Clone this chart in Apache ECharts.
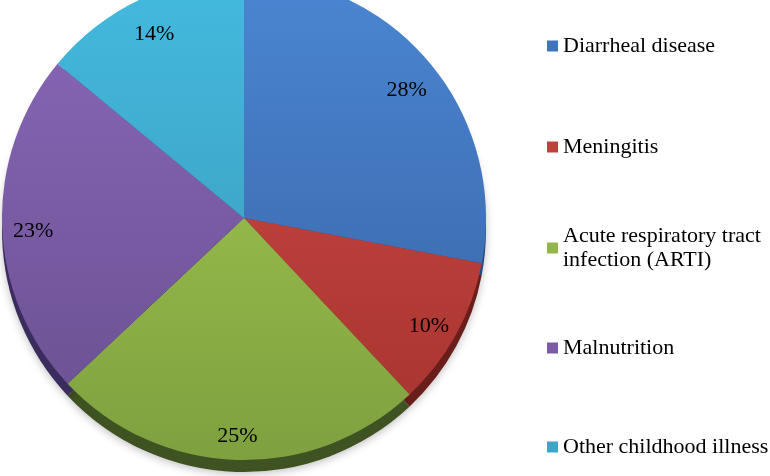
<!DOCTYPE html>
<html>
<head>
<meta charset="utf-8">
<script src="https://cdn.jsdelivr.net/npm/echarts@6/dist/echarts.min.js"></script>
<style>html,body{margin:0;padding:0;background:#fff}#c{width:770px;height:476px}</style>
</head>
<body>
<div id="c"></div>
<script>
const categories = ['Diarrheal disease', 'Meningitis', 'Acute respiratory tract infection (ARTI)', 'Malnutrition', 'Other childhood illness'];
const legendText = ['Diarrheal disease', 'Meningitis', 'Acute respiratory tract\ninfection (ARTI)', 'Malnutrition', 'Other childhood illness'];
const values = [28, 10, 25, 23, 14];

const topColors = ['#4A84D0', '#D04A44', '#A6CC52', '#8867B7', '#43B8DD'];
const bottomColors = ['#3560A0', '#A3322E', '#7E9F3F', '#684E8E', '#3895B3'];
const sideColors = ['#2B4D7E', '#6A1E1B', '#3F5222', '#3A2C5C', '#2A6A80'];
const legendColors = ['#3F74BF', '#C0403C', '#92B64C', '#7A5BA4', '#3BA6C8'];

const font = 'Liberation Serif';
const cx = 244, cy = 218, R = 242;

function grad(i) {
  return new echarts.graphic.LinearGradient(0, 0, 0, 470, [
    { offset: 0, color: topColors[i] },
    { offset: 1, color: bottomColors[i] }
  ], true);
}

const mainData = categories.map((n, i) => ({ name: n, value: values[i], itemStyle: { color: grad(i) } }));
const sideData = categories.map((n, i) => ({ name: n, value: values[i], itemStyle: { color: sideColors[i] } }));
const labelData = categories.map((n, i) => ({ name: n, value: values[i] }));

const legendCenters = [41, 142, 243, 343, 442];
const legends = categories.map((n, i) => {
  const twoLine = legendText[i].indexOf('\n') >= 0;
  return {
    orient: 'vertical',
    left: 542,
    top: twoLine ? legendCenters[i] - 36 : legendCenters[i] - 12,
    itemWidth: 11,
    itemHeight: 11,
    icon: 'rect',
    selectedMode: false,
    formatter: () => legendText[i],
    textStyle: {
      fontFamily: font, fontSize: 22, color: '#000', lineHeight: 24,
      padding: twoLine ? [24, 0, 0, 0] : 0
    },
    data: [{ name: n, itemStyle: { color: legendColors[i] } }]
  };
});

const chart = echarts.init(document.getElementById('c'), null, { renderer: 'canvas' });
chart.setOption({
  animation: false,
  textStyle: { fontFamily: font },
  legend: legends,
  series: [
    {
      type: 'pie', z: 1, center: [cx, cy + 12], radius: R, startAngle: 90, clockwise: true,
      silent: true, label: { show: false }, labelLine: { show: false },
      itemStyle: { shadowBlur: 8, shadowColor: 'rgba(0,0,0,0.25)', shadowOffsetY: 2 },
      data: sideData
    },
    {
      type: 'pie', z: 2, center: [cx, cy], radius: R, startAngle: 90, clockwise: true,
      label: { show: false }, labelLine: { show: false },
      emphasis: { disabled: true },
      data: mainData
    },
    {
      type: 'pie', z: 3, center: [cx, cy + 7], radius: [176, 240], startAngle: 90, clockwise: true,
      silent: true,
      itemStyle: { color: 'rgba(0,0,0,0)' },
      label: {
        show: true, position: 'inside',
        formatter: p => Math.round(p.percent) + '%',
        fontFamily: font, fontSize: 22, color: '#000'
      },
      labelLine: { show: false },
      data: labelData
    }
  ]
});
</script>
</body>
</html>
